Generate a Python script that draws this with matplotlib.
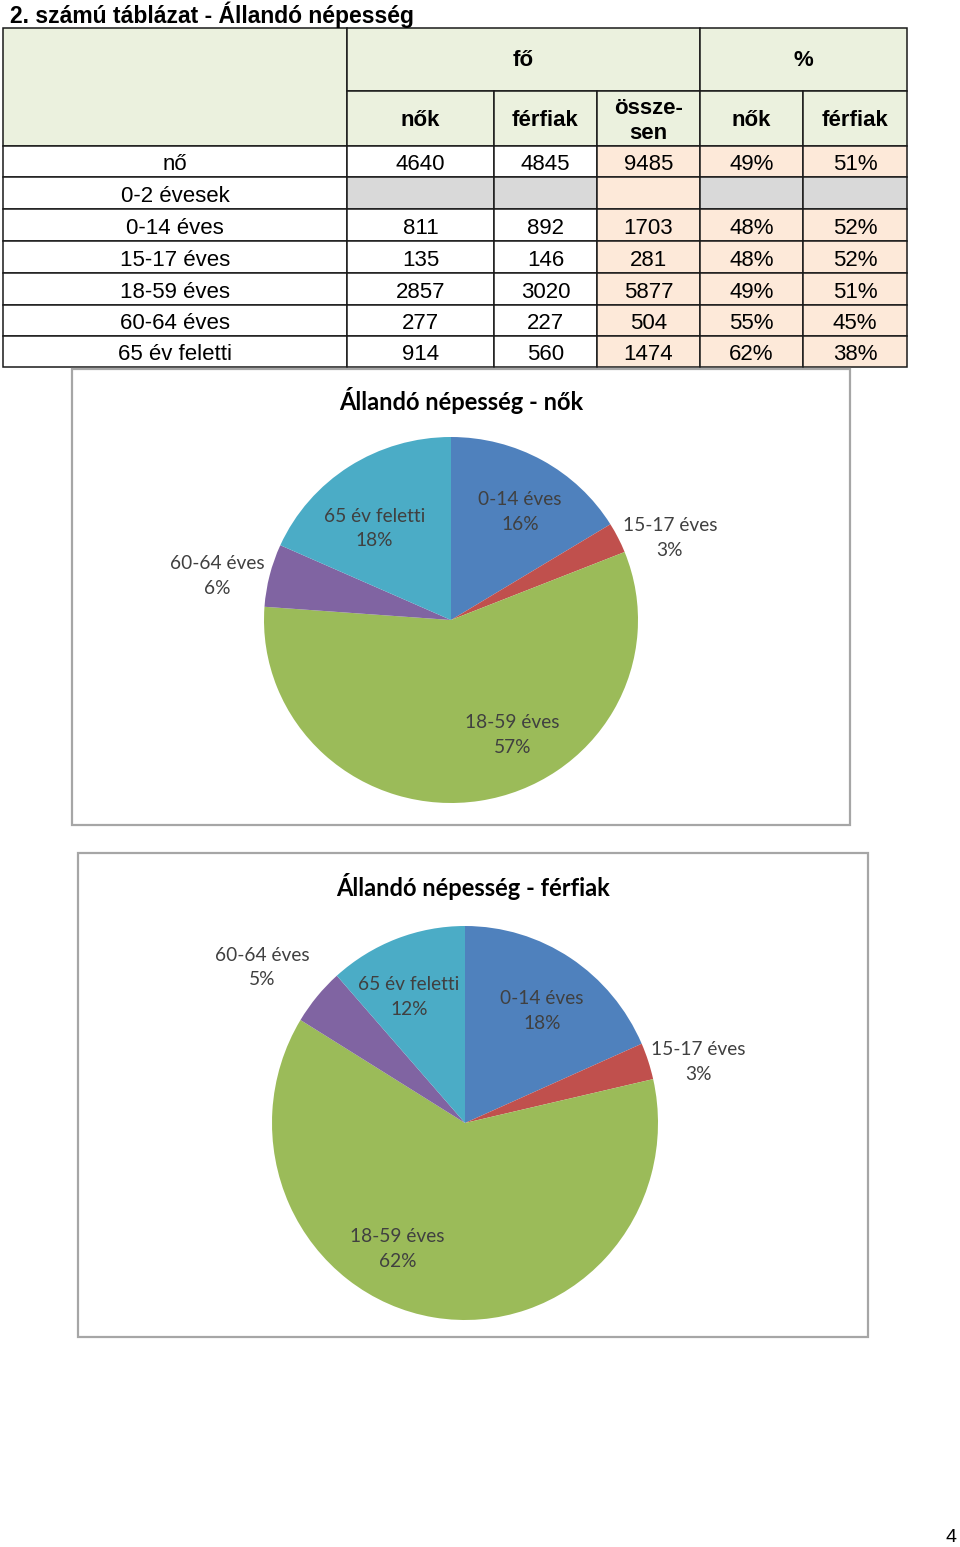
import matplotlib.pyplot as plt
from matplotlib.patches import Rectangle

# táblázat adatai
sorok = ['nő', '0-2 évesek', '0-14 éves', '15-17 éves', '18-59 éves', '60-64 éves', '65 év feletti']
nok = [4640, None, 811, 135, 2857, 277, 914]
ferfiak = [4845, None, 892, 146, 3020, 227, 560]
osszesen = [9485, None, 1703, 281, 5877, 504, 1474]

# kördiagramok adatai
korcsoportok = ['0-14 éves', '15-17 éves', '18-59 éves', '60-64 éves', '65 év feletti']
nok_kor = [811, 135, 2857, 277, 914]
ferfiak_kor = [892, 146, 3020, 227, 560]
szinek = ['#4F81BD', '#C0504D', '#9BBB59', '#8064A2', '#4BACC6']

W, H = 960, 1547
fig = plt.figure(figsize=(W / 100, H / 100), dpi=100)
bg = fig.add_axes([0, 0, 1, 1])
bg.set_xlim(0, W)
bg.set_ylim(H, 0)
bg.axis('off')

TABLA_FONT = 'Liberation Sans'
ZOLD = '#EBF1DE'
BARACK = '#FDE9D9'
SZURKE = '#D9D9D9'

bg.text(10, 15, '2. számú táblázat - Állandó népesség', fontsize=16.5, fontweight='bold',
        family=TABLA_FONT, va='center', ha='left')

oszlopok = [3, 347, 494, 597, 700, 803, 907]
sorhatarok = [146, 177, 209, 241, 273, 305, 336, 367]
fejlec_teteje, fejlec_kozep = 28, 91


def cella(x0, y0, x1, y1, szin):
    bg.add_patch(Rectangle((x0, y0), x1 - x0, y1 - y0, facecolor=szin,
                           edgecolor='#1a1a1a', linewidth=1.1))


# fejléc
cella(oszlopok[0], fejlec_teteje, oszlopok[1], sorhatarok[0], ZOLD)
cella(oszlopok[1], fejlec_teteje, oszlopok[4], fejlec_kozep, ZOLD)
cella(oszlopok[4], fejlec_teteje, oszlopok[6], fejlec_kozep, ZOLD)
bg.text((oszlopok[1] + oszlopok[4]) / 2, 61, 'fő',
        fontsize=16, fontweight='bold', family=TABLA_FONT, ha='center', va='center')
bg.text((oszlopok[4] + oszlopok[6]) / 2, 61, '%',
        fontsize=16, fontweight='bold', family=TABLA_FONT, ha='center', va='center')
alfejlec = ['nők', 'férfiak', 'össze-\nsen', 'nők', 'férfiak']
for j, szoveg in enumerate(alfejlec):
    x0, x1 = oszlopok[j + 1], oszlopok[j + 2]
    cella(x0, fejlec_kozep, x1, sorhatarok[0], ZOLD)
    y = 121 if '\n' in szoveg else 121
    bg.text((x0 + x1) / 2, y, szoveg, fontsize=16, fontweight='bold', family=TABLA_FONT,
            ha='center', va='center', linespacing=1.3)

# adatsorok
for i, nev in enumerate(sorok):
    y0, y1 = sorhatarok[i], sorhatarok[i + 1]
    ures = nok[i] is None
    if ures:
        ertekek = ['', '', '', '', '']
    else:
        ertekek = [str(nok[i]), str(ferfiak[i]), str(osszesen[i]),
                   f'{round(100 * nok[i] / osszesen[i])}%',
                   f'{round(100 * ferfiak[i] / osszesen[i])}%']
    hatter = ['white',
              SZURKE if ures else 'white',
              SZURKE if ures else 'white',
              BARACK,
              SZURKE if ures else BARACK,
              SZURKE if ures else BARACK]
    for j in range(6):
        cella(oszlopok[j], y0, oszlopok[j + 1], y1, hatter[j])
    szovegek = [nev] + ertekek
    for j, s in enumerate(szovegek):
        bg.text((oszlopok[j] + oszlopok[j + 1]) / 2, (y0 + y1) / 2 + 3, s, fontsize=16,
                family=TABLA_FONT, ha='center', va='center')

# kördiagramok
DIAGRAM_FONT = 'Lato'
CIMKE_SZIN = '#404040'


def kordiagram(keret, cim, cim_y, kozep, sugarak, ertekek, cimke_helyek):
    x0, y0, x1, y1 = keret
    bg.add_patch(Rectangle((x0, y0), x1 - x0, y1 - y0, facecolor='white',
                           edgecolor='#A6A6A6', linewidth=1.6))
    bg.text((x0 + x1) / 2, cim_y, cim, fontsize=17, fontweight='bold',
            family=DIAGRAM_FONT, ha='center', va='center')
    cx, cy = kozep
    rx, ry = sugarak
    ax = fig.add_axes([(cx - rx) / W, 1 - (cy + ry) / H, 2 * rx / W, 2 * ry / H])
    ax.pie(ertekek, colors=szinek, startangle=90, counterclock=False,
           wedgeprops=dict(linewidth=0))
    ax.set_aspect('auto')
    ax.set_xlim(-1, 1)
    ax.set_ylim(-1, 1)
    ax.axis('off')
    osszeg = sum(ertekek)
    for nev, v, (lx, ly) in zip(korcsoportok, ertekek, cimke_helyek):
        ax.text(lx, ly, f'{nev}\n{100 * v / osszeg:.0f}%', fontsize=13.8,
                family=DIAGRAM_FONT, color=CIMKE_SZIN, ha='center', va='center',
                linespacing=1.55, clip_on=False)


kordiagram((72, 369, 850, 825), 'Állandó népesség - nők', 401, (451, 620), (187, 183),
           nok_kor, [(0.37, 0.59), (1.17, 0.45), (0.33, -0.63), (-1.25, 0.24), (-0.41, 0.50)])
kordiagram((78, 853, 868, 1337), 'Állandó népesség - férfiak', 887, (465, 1123), (193, 197),
           ferfiak_kor, [(0.40, 0.57), (1.21, 0.31), (-0.35, -0.64), (-1.05, 0.79), (-0.29, 0.64)])

bg.text(951, 1538, '4', fontsize=14, family=TABLA_FONT, ha='center', va='center')

fig.savefig('out.png', dpi=100)
